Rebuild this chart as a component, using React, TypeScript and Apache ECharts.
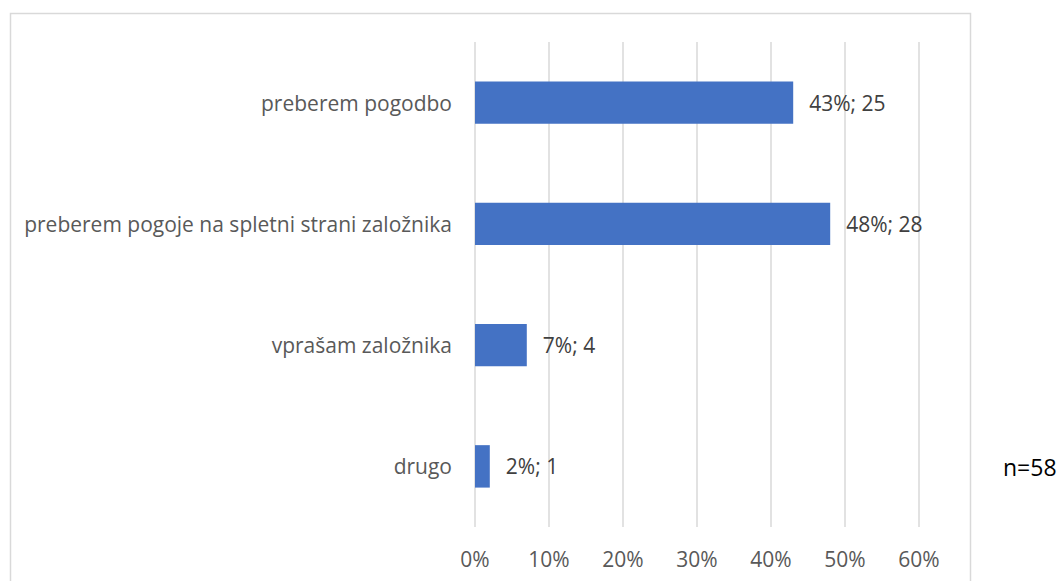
import React, { useEffect, useRef } from "react";
import * as echarts from "echarts";

const categories = [
  "preberem pogodbo",
  "preberem pogoje na spletni strani založnika",
  "vprašam založnika",
  "drugo",
];
const percentValues = [43, 48, 7, 2];
const countValues = [25, 28, 4, 1];
const xTicks = { min: 0, max: 60, interval: 10 };
const sampleNote = "n=58";

export default function App() {
  const ref = useRef<HTMLDivElement>(null);
  useEffect(() => {
    if (!ref.current) return;
    const chart = echarts.init(ref.current, null, { renderer: "svg" });
    const font = "'Open Sans', 'Noto Sans', sans-serif";
    chart.setOption({
      animation: false,
      backgroundColor: "#ffffff",
      grid: { left: 475, right: 141, top: 42, bottom: 54, containLabel: false },
      xAxis: {
        type: "value",
        min: xTicks.min,
        max: xTicks.max,
        interval: xTicks.interval,
        axisLine: { show: false },
        axisTick: { show: false },
        splitLine: { show: true, lineStyle: { color: "#d9d9d9", width: 1.5 } },
        axisLabel: {
          formatter: "{value}%",
          color: "#595959",
          fontSize: 21,
          fontFamily: font,
          margin: 21,
        },
      },
      yAxis: {
        type: "category",
        inverse: true,
        data: categories,
        axisLine: { show: false },
        axisTick: { show: false },
        splitLine: { show: false },
        axisLabel: {
          color: "#595959",
          fontSize: 21,
          fontFamily: font,
          margin: 23,
        },
      },
      series: [
        {
          type: "bar",
          data: percentValues,
          barWidth: "35%",
          itemStyle: { color: "#4472C4" },
          label: {
            show: true,
            position: "right",
            distance: 16,
            color: "#404040",
            fontSize: 21,
            fontFamily: font,
            formatter: (p: any) => `${p.value}%; ${countValues[p.dataIndex]}`,
          },
        },
      ],
      graphic: [
        {
          type: "rect",
          shape: { x: 10.5, y: 13.5, width: 960, height: 620 },
          style: { fill: "none", stroke: "#d9d9d9", lineWidth: 1.5 },
          silent: true,
        },
        {
          type: "text",
          x: 1003,
          y: 467,
          style: {
            text: sampleNote,
            fill: "#000000",
            fontSize: 23,
            fontFamily: font,
            verticalAlign: "middle",
            align: "left",
          },
        },
      ],
    });
    return () => chart.dispose();
  }, []);
  return (
    <div
      ref={ref}
      style={{ position: "absolute", left: 0, top: 0, width: 1060, height: 581 }}
    />
  );
}
